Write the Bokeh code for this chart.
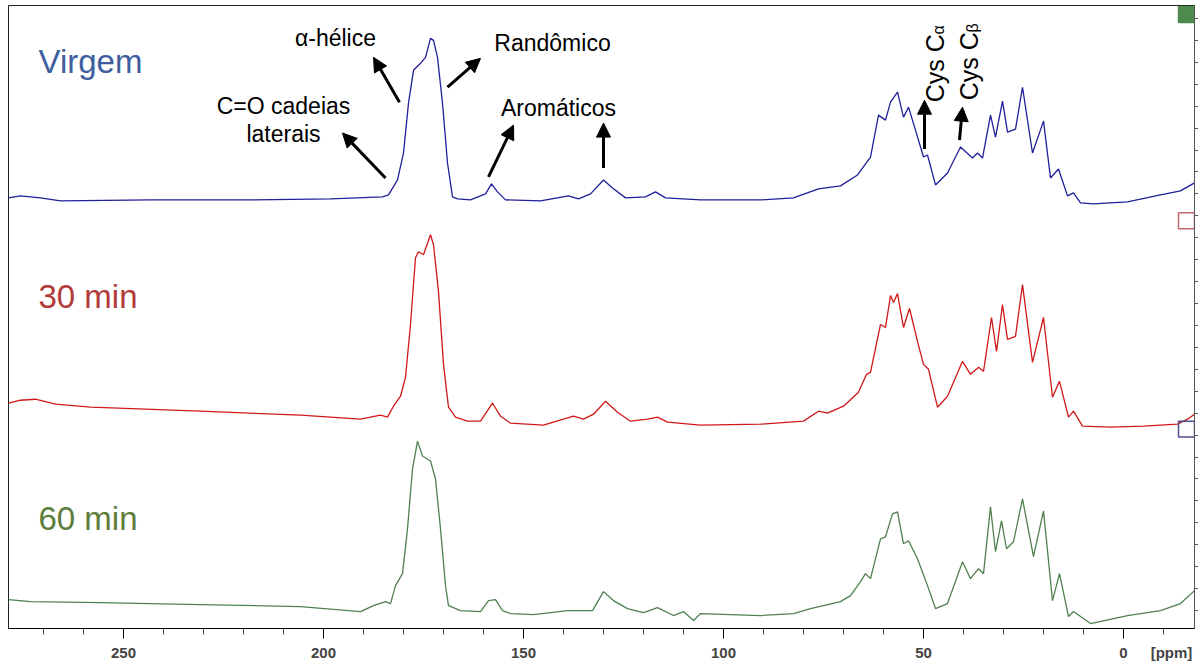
import math
from bokeh.plotting import figure
from bokeh.models import Range1d, FixedTicker, Label, Arrow, NormalHead, ColumnDataSource, LinearAxis
from bokeh.embed import file_html
from bokeh.resources import INLINE

# ---------------- data ----------------
virgem_ppm = [278.75, 275.75, 270.75, 265.75, 243.25, 218.25, 198.25, 185.25, 183.75, 181.5,
              180.0, 178.75, 177.5, 175.75, 174.5, 173.25, 172.5, 171.5, 170.25, 169.0,
              167.75, 166.5, 163.25, 159.5, 158.0, 156.5, 154.5, 145.75, 138.75, 136.25,
              133.25, 130.0, 127.75, 124.5, 119.5, 117.0, 114.5, 105.75, 90.75, 82.5,
              76.25, 70.75, 66.5, 63.25, 61.25, 59.5, 58.25, 56.5, 55.0, 53.75,
              52.0, 50.0, 49.0, 47.0, 44.0, 40.75, 37.75, 36.5, 35.25, 33.25,
              32.0, 30.25, 29.0, 27.0, 25.25, 22.75, 20.0, 18.25, 16.25, 14.0,
              12.5, 10.75, 7.5, -1.0, -9.25, -14.25, -17.75]
virgem_int = [2, 4, 2, -1, 0, 0, 1, 3, 5, 20,
              47, 97, 130, 137, 143, 162, 160, 143, 97, 37,
              3, 1, 0, 6, 16, 8, 0, -1, 4, 1,
              6, 20, 12, 2, 3, 8, 2, 0, 0, 2,
              11, 14, 25, 43, 85, 80, 98, 108, 83, 93,
              70, 43, 45, 15, 27, 53, 42, 47, 42, 85,
              63, 99, 68, 71, 113, 47, 79, 22, 31, 4,
              7, -3, -4, -2, 5, 9, 17]

min30_ppm = [278.75, 275.75, 272.0, 267.0, 258.25, 230.75, 205.75, 190.75, 185.75, 184.0,
             182.5, 180.75, 179.5, 178.25, 177.0, 176.25, 175.0, 173.25, 172.5, 171.25,
             170.0, 168.75, 167.0, 164.0, 160.75, 157.75, 155.75, 153.25, 145.0, 137.5,
             135.0, 132.5, 129.5, 126.5, 123.25, 119.0, 116.5, 114.0, 105.75, 90.75,
             80.0, 76.25, 74.0, 70.0, 66.25, 64.25, 63.25, 60.75, 59.5, 58.25,
             57.5, 56.5, 55.0, 53.5, 51.5, 50.0, 48.75, 46.5, 44.0, 40.25,
             38.25, 36.25, 35.0, 33.0, 31.75, 30.25, 29.0, 27.0, 25.25, 22.75,
             20.0, 17.75, 16.0, 13.75, 12.5, 10.25, 3.25, -5.0, -13.5, -16.0, -17.75]
min30_int = [21, 24, 25, 20, 17, 13, 9, 5, 9, 7,
             18, 28, 47, 100, 167, 173, 170, 190, 180, 133,
             60, 17, 7, 3, 3, 21, 8, 1, -1, 8,
             5, 10, 23, 12, 3, 5, 7, 2, -1, 0,
             3, 13, 11, 18, 32, 50, 52, 100, 97, 129,
             122, 131, 97, 116, 83, 60, 55, 17, 28, 63,
             50, 57, 53, 107, 73, 120, 85, 88, 140, 62,
             107, 27, 43, 7, 13, -2, -3, -2, 0, 5, 10]

min60_ppm = [278.75, 273.25, 255.75, 230.75, 205.75, 190.75, 187.5, 184.5, 183.25, 182.0,
             180.25, 179.0, 177.75, 176.5, 175.25, 173.25, 172.0, 170.75, 169.5, 168.75,
             165.75, 160.75, 158.75, 157.0, 155.25, 153.25, 147.5, 139.0, 132.75, 130.0,
             127.5, 124.0, 120.0, 116.5, 112.5, 110.0, 107.5, 105.75, 90.75, 82.5,
             78.25, 70.75, 68.25, 65.75, 64.5, 63.25, 60.75, 59.5, 57.75, 56.5,
             55.0, 53.75, 51.5, 49.0, 47.0, 44.0, 40.25, 38.25, 36.25, 35.0,
             33.25, 32.0, 30.5, 29.25, 27.5, 25.25, 22.5, 20.0, 17.75, 16.0,
             13.75, 12.5, 8.25, -1.0, -9.25, -14.25, -17.75]
min60_int = [11, 9, 8, 6, 4, -1, 5, 9, 7, 25,
             37, 82, 142, 170, 155, 150, 132, 82, 25, 5,
             0, -1, 10, 11, 0, -3, -4, 0, 0, 19,
             10, 2, -2, 3, -5, -1, -10, -3, -5, -3,
             2, 9, 15, 29, 37, 32, 72, 74, 97, 99,
             67, 70, 52, 25, 2, 7, 49, 32, 42, 37,
             104, 59, 90, 62, 69, 112, 54, 100, 10, 37,
             -6, -1, -13, -5, 0, 7, 20]

series_names = ["Virgem", "30 min", "60 min"]
series_offsets = [430, 205, 18]
series_label_y = [569, 333, 110]
series_colors = ["#1f1f9a", "#d01818", "#4f8050"]
label_colors = ["#3e5e9e", "#b23a3a", "#5e7d3c"]

x_major_ticks = [250, 200, 150, 100, 50, 0]
x_minor_ticks = [270, 260, 240, 230, 220, 210, 190, 180, 170, 160, 140, 130, 120, 110,
                 90, 80, 70, 60, 40, 30, 20, 10, -10]
x_unit_pos = -12
x_unit_text = "[ppm]"
right_ticks = [18 + 22 * k for k in range(28)]

# annotation texts and arrows (ppm, intensity units)
note_text = ["α-hélice", "Randômico", "C=O cadeias", "laterais", "Aromáticos"]
note_x = [197.0, 142.75, 210.0, 210.0, 141.25]
note_y = [592, 587, 524, 496, 522]

arrow_x0 = [184.5, 181.0, 169.0, 158.75, 130.0, 49.75, 41.0]
arrow_y0 = [452, 528, 543, 453, 462, 481, 490]
arrow_x1 = [195.25, 187.5, 160.75, 152.5, 130.0, 49.75, 40.25]
arrow_y1 = [497, 573, 572, 505, 507, 530, 523]

marker_y = [616, 409, 200]
marker_fill = ["#4e8a4e", None, None]
marker_line = ["#4e8a4e", "#c46868", "#50508e"]

# ---------------- figure ----------------
p = figure(width=1198, height=663,
           x_range=Range1d(278.75, -17.75), y_range=Range1d(0, 625),
           output_backend="svg", toolbar_location=None, y_axis_location="right",
           min_border_left=8, min_border_top=5, min_border_right=4, min_border_bottom=33)
p.background_fill_color = "white"
p.border_fill_color = "white"
p.outline_line_color = "#222222"
p.xgrid.visible = False
p.ygrid.visible = False

for ppm, inten, off, col in zip([virgem_ppm, min30_ppm, min60_ppm],
                                [virgem_int, min30_int, min60_int],
                                series_offsets, series_colors):
    src = ColumnDataSource(dict(x=ppm, y=[v + off for v in inten]))
    p.line("x", "y", source=src, line_color=col, line_width=1.3)

# x axis: ticks only
xa = p.xaxis[0]
xa.ticker = FixedTicker(ticks=x_major_ticks, minor_ticks=x_minor_ticks)
xa.major_tick_out = 10
xa.major_tick_in = 0
xa.minor_tick_out = 6
xa.minor_tick_in = 0
xa.major_label_standoff = 0
xa.major_label_text_font_size = "0px"
xa.axis_line_color = "black"
xa.major_tick_line_color = "black"
xa.minor_tick_line_color = "#444444"

# x axis labels (with unit)
xl = LinearAxis(ticker=FixedTicker(ticks=x_major_ticks + [x_unit_pos], minor_ticks=[]),
                major_label_overrides={x_unit_pos: x_unit_text})
xl.axis_line_color = None
xl.major_tick_line_color = None
xl.minor_tick_line_color = None
xl.major_tick_out = 0
xl.major_tick_in = 0
xl.major_label_standoff = 5
xl.major_label_text_font = "Liberation Sans"
xl.major_label_text_font_style = "bold"
xl.major_label_text_font_size = "15px"
p.add_layout(xl, "below")

# right axis
ya = p.yaxis[0]
ya.ticker = FixedTicker(ticks=right_ticks, minor_ticks=[])
ya.major_label_text_font_size = "0px"
ya.major_label_standoff = 0
ya.major_tick_out = 4
ya.major_tick_in = 0
ya.axis_line_color = "#555555"
ya.major_tick_line_color = "#555555"
ya.minor_tick_line_color = None

# series labels
for name, ly, col in zip(series_names, series_label_y, label_colors):
    p.add_layout(Label(x=271.25, y=ly, text=name,
                       text_align="left", text_baseline="middle", text_font="Liberation Sans",
                       text_font_size="33px", text_color=col))

# notes
for t, x, y in zip(note_text, note_x, note_y):
    p.add_layout(Label(x=x, y=y, text=t, text_align="center", text_baseline="middle",
                       text_font="Liberation Sans", text_font_size="23px", text_color="black"))

# rotated Cys labels
for xb, yb, xs, ys, sub in [(47.25, 528, 46.25, 596, "α"), (38.75, 530, 37.75, 598, "β")]:
    p.add_layout(Label(x=xb, y=yb, text="Cys C", angle=math.pi / 2, text_align="left",
                       text_baseline="alphabetic", text_font="Liberation Sans",
                       text_font_size="25px", text_color="black"))
    p.add_layout(Label(x=xs, y=ys, text=sub, angle=math.pi / 2, text_align="left",
                       text_baseline="alphabetic", text_font="Liberation Sans",
                       text_font_size="16px", text_color="black"))

# arrows
for x0, y0, x1, y1 in zip(arrow_x0, arrow_y0, arrow_x1, arrow_y1):
    p.add_layout(Arrow(end=NormalHead(size=14, fill_color="black", line_color="black"),
                       x_start=x0, y_start=y0, x_end=x1, y_end=y1,
                       line_color="black", line_width=3))

# small series markers at the right edge
msrc = ColumnDataSource(dict(x=[-15.75] * 3, y=marker_y, fill=marker_fill, line=marker_line))
p.rect("x", "y", width=4, height=16, source=msrc, fill_color="fill", line_color="line",
       line_width=1.5)

open("out.html", "w").write(file_html(p, INLINE))
